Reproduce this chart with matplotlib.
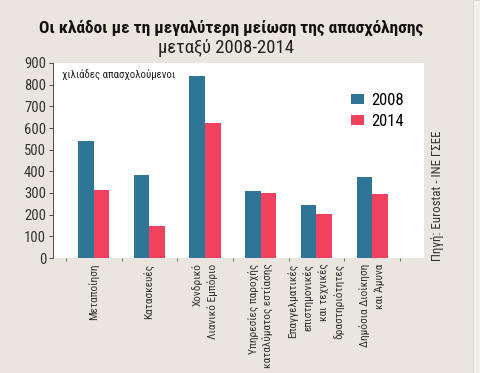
import numpy as np
import matplotlib.pyplot as plt
from matplotlib.patches import Rectangle

plt.rcParams['font.family'] = ['Roboto Condensed', 'Open Sans Condensed',
                               'Fira Sans Condensed', 'IBM Plex Sans Condensed',
                               'DejaVu Sans']

categories = ['Μεταποίηση', 'Κατασκευές', 'Χονδρικό\nΛιανικό Εμπόριο',
              'Υπηρεσίες παροχής\nκαταλύματος εστίασης',
              'Επαγγελματικές\nεπιστημονικές\nκαι τεχνικές\nδραστηριότητες',
              'Δημόσια Διοίκηση\nκαι Άμυνα']
y2008 = [538, 385, 840, 310, 245, 375]
y2014 = [315, 150, 622, 298, 202, 295]
yticks = [0, 100, 200, 300, 400, 500, 600, 700, 800, 900]

bg = '#ebe5df'
blue = '#2f7596'
red = '#f0415f'

fig = plt.figure(figsize=(4.8, 3.73), dpi=100, facecolor=bg)
ax = fig.add_axes([53/480, 1-258/373, (424-53)/480, (258-63)/373])
ax.set_facecolor('white')

x = np.arange(len(categories))
w = 0.28
ax.bar(x - w/2, y2008, w, color=blue, label='2008')
ax.bar(x + w/2, y2014, w, color=red, label='2014')

ax.set_xlim(-0.73, 5.93)
ax.set_ylim(0, 900)
ax.set_yticks(yticks)
ax.tick_params(axis='y', labelsize=10.5, length=3, width=0.6, colors='#333333', pad=2)
ax.set_xticks(x)
ax.set_xticklabels(categories, rotation=90, fontsize=8.2, color='#333333',
                   multialignment='right', linespacing=1.5)
ax.tick_params(axis='x', length=0, pad=4)
ax.set_xticks(np.arange(-0.5, 6, 1), minor=True)
ax.tick_params(axis='x', which='minor', length=2, width=0.6, color='#555555')

for s in ['top', 'right', 'bottom']:
    ax.spines[s].set_visible(False)
ax.spines['left'].set_linewidth(0.6)
ax.spines['left'].set_color('#333333')

ax.text(0.025, 0.965, 'χιλιάδες απασχολούμενοι', transform=ax.transAxes,
        fontsize=7.8, color='#222222', va='top', ha='left')

ax.legend(loc='upper right', bbox_to_anchor=(0.985, 0.925), frameon=False,
          fontsize=12, handlelength=0.8, handleheight=0.55, handletextpad=0.4,
          labelspacing=0.4)

fig.text(231/480, 1-28/373, 'Οι κλάδοι με τη μεγαλύτερη μείωση της απασχόλησης',
         ha='center', va='center', fontsize=12.5, fontweight='black', color='#111111')
fig.text(226/480, 1-48/373, 'μεταξύ 2008-2014', ha='center', va='center',
         fontsize=13.5, color='#222222')
fig.text(437/480, 1-196/373, 'Πηγή: Eurostat - ΙΝΕ ΓΣΕΕ', rotation=90,
         ha='center', va='center', fontsize=9.3, color='#333333')

fig.patches.append(Rectangle((473/480, 0), 7/480, 1, transform=fig.transFigure,
                             facecolor='#f2efeb', edgecolor='#d9d3cc', lw=0.5))

fig.savefig('out.png', dpi=100, facecolor=bg)
